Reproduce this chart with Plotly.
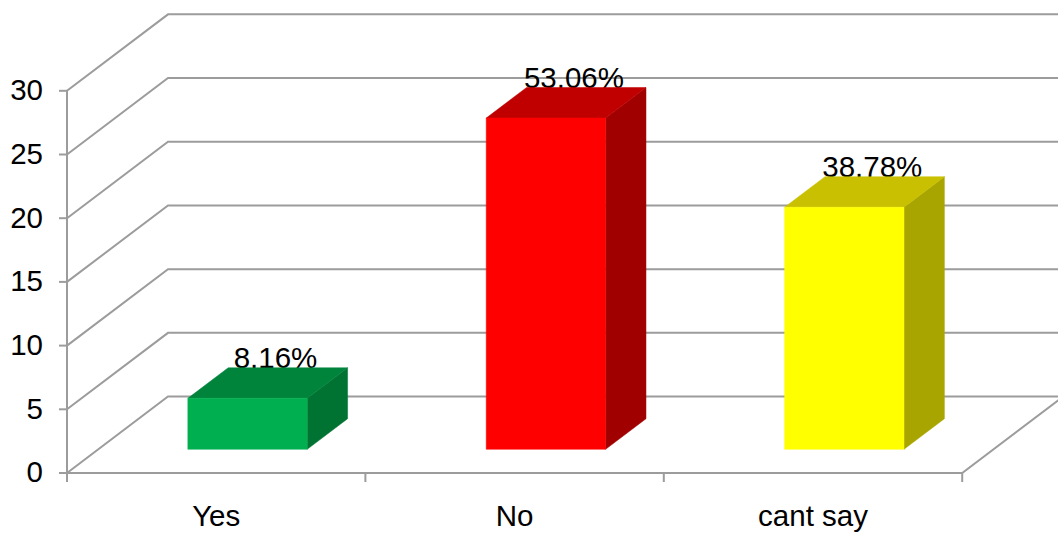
import plotly.graph_objects as go

# Survey responses (counts out of 49) and their share labels
categories = ["Yes", "No", "cant say"]
counts = [4, 26, 19]
pct_labels = ["8.16%", "53.06%", "38.78%"]
y_ticks = [0, 5, 10, 15, 20, 25, 30]

front_colors = ["#00B050", "#FF0000", "#FFFF00"]
top_colors = ["#00843C", "#C00000", "#C8C000"]
side_colors = ["#007332", "#A00000", "#A8A400"]

# Oblique projection: depth shifts points right/up in data units
W, H = 1058, 533
PX_X = 298.4          # pixels per category
PX_Y = 12.74          # pixels per value unit
ORIGIN_X, ORIGIN_Y = 67, 473
DEPTH_X = 101 / PX_X
DEPTH_Y = 6.0
BAR_FRONT, BAR_BACK = 0.31, 0.71   # bar depth span (fraction of full depth)
BAR_W = 0.4
GRID = "#9C9C9C"
FONT = "Liberation Sans, Arial, sans-serif"
FONT_SIZE = 29.5

n = len(categories)
fig = go.Figure()


def line(xs, ys, color=GRID, width=2):
    fig.add_trace(go.Scatter(x=xs, y=ys, mode="lines", hoverinfo="skip",
                             line=dict(color=color, width=width), showlegend=False))


def poly(xs, ys, color):
    fig.add_trace(go.Scatter(x=xs + [xs[0]], y=ys + [ys[0]], mode="lines", fill="toself",
                             fillcolor=color, line=dict(color=color, width=0.5),
                             hoverinfo="skip", showlegend=False))


# Back wall / side wall gridlines
for v in y_ticks:
    line([0, DEPTH_X, n + DEPTH_X], [v, v + DEPTH_Y, v + DEPTH_Y])

# Floor front edge and right edge
line([0, n, n + DEPTH_X], [0, 0, DEPTH_Y])
# Vertical value axis
line([0, 0], [0, y_ticks[-1]])

# Tick marks
tick_dx = 8 / PX_X
tick_dy = 9 / PX_Y
for v in y_ticks:
    line([-tick_dx, 0], [v, v])
for i in range(n + 1):
    line([i, i], [0, -tick_dy])

# Value axis labels
fig.add_trace(go.Scatter(x=[-24 / PX_X] * len(y_ticks), y=[v - 2 / PX_Y for v in y_ticks],
                         mode="text",
                         text=[str(v) for v in y_ticks], textposition="middle left",
                         textfont=dict(family=FONT, size=FONT_SIZE, color="#000000"),
                         hoverinfo="skip", showlegend=False))
# Category labels
fig.add_trace(go.Scatter(x=[i + 0.5 for i in range(n)], y=[-46 / PX_Y] * n, mode="text",
                         text=categories, textposition="middle center",
                         textfont=dict(family=FONT, size=FONT_SIZE, color="#000000"),
                         hoverinfo="skip", showlegend=False))

# Percentage labels sit just behind the bar tops
lab_x, lab_y = [], []
for i, v in enumerate(counts):
    fx = i + 0.5 + BAR_FRONT * DEPTH_X
    lab_x.append(fx + 28 / PX_X)
    lab_y.append(BAR_FRONT * DEPTH_Y + v + (BAR_BACK - BAR_FRONT) * DEPTH_Y + 7 / PX_Y)
fig.add_trace(go.Scatter(x=lab_x, y=lab_y, mode="text", text=pct_labels,
                         textposition="middle center",
                         textfont=dict(family=FONT, size=FONT_SIZE, color="#000000"),
                         hoverinfo="skip", showlegend=False))

# 3D bars: front, top and right side faces
bdx = (BAR_BACK - BAR_FRONT) * DEPTH_X
bdy = (BAR_BACK - BAR_FRONT) * DEPTH_Y
for i, v in enumerate(counts):
    x0 = i + 0.5 - BAR_W / 2 + BAR_FRONT * DEPTH_X
    x1 = x0 + BAR_W
    y0 = BAR_FRONT * DEPTH_Y
    y1 = y0 + v
    poly([x1, x1, x1 + bdx, x1 + bdx], [y0, y1, y1 + bdy, y0 + bdy], side_colors[i])
    poly([x0, x1, x1 + bdx, x0 + bdx], [y1, y1, y1 + bdy, y1 + bdy], top_colors[i])
    poly([x0, x1, x1, x0], [y0, y0, y1, y1], front_colors[i])

fig.update_layout(
    width=W, height=H,
    margin=dict(l=0, r=0, t=0, b=0),
    paper_bgcolor="#FFFFFF", plot_bgcolor="#FFFFFF",
    xaxis=dict(range=[-ORIGIN_X / PX_X, (W - ORIGIN_X) / PX_X], visible=False, fixedrange=True),
    yaxis=dict(range=[-(H - ORIGIN_Y) / PX_Y, ORIGIN_Y / PX_Y], visible=False, fixedrange=True),
    showlegend=False,
)

fig.write_html("out.html", config={"displayModeBar": False})
